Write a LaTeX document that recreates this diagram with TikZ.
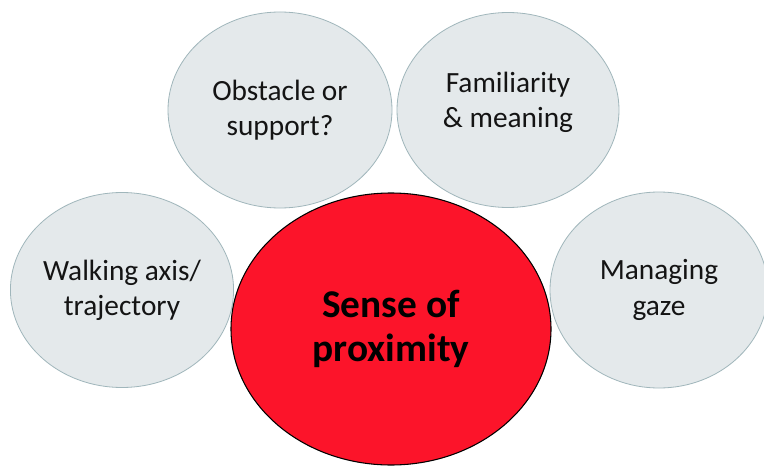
\documentclass[tikz,border=0pt]{standalone}
\usepackage{fontspec}
\setmainfont{Carlito}
\usetikzlibrary{shapes.geometric}
\definecolor{bubblefill}{RGB}{228,233,235}
\definecolor{bubbleedge}{RGB}{160,182,187}
\definecolor{corered}{RGB}{252,20,42}
\definecolor{labelink}{RGB}{20,20,20}
\tikzset{
  bubble/.style={ellipse, draw=bubbleedge, line width=0.6pt, fill=bubblefill,
    inner sep=0pt, align=center, text=labelink,
    font=\fontsize{22}{26.5}\selectfont},
  core/.style={ellipse, draw=black, line width=0.8pt, fill=corered,
    inner sep=0pt, align=center, text=black,
    font=\fontsize{29.5}{33}\selectfont\bfseries}
}
\begin{document}
\begin{tikzpicture}[x=0.75pt,y=-0.75pt]
  \useasboundingbox (0,0) rectangle (764,467);
  \fill[white] (0,0) rectangle (764,467);
  % surrounding factors
  \node[bubble, minimum width=168pt, minimum height=147pt] (obstacle) at (280,110) {Obstacle or\\support?};
  \node[bubble, minimum width=166.5pt, minimum height=146.25pt, text depth=15pt] (familiar) at (508,110) {Familiarity\\\& meaning};
  \node[bubble, minimum width=166.5pt, minimum height=146.25pt] (walking) at (122,290) {Walking axis/\\trajectory};
  \node[bubble, minimum width=163.5pt, minimum height=147pt] (gaze) at (659,290) {Managing\\gaze};
  % central notion
  \node[core, minimum width=240pt, minimum height=204pt] (proximity) at (391,329) {Sense of\\proximity};
\end{tikzpicture}
\end{document}
